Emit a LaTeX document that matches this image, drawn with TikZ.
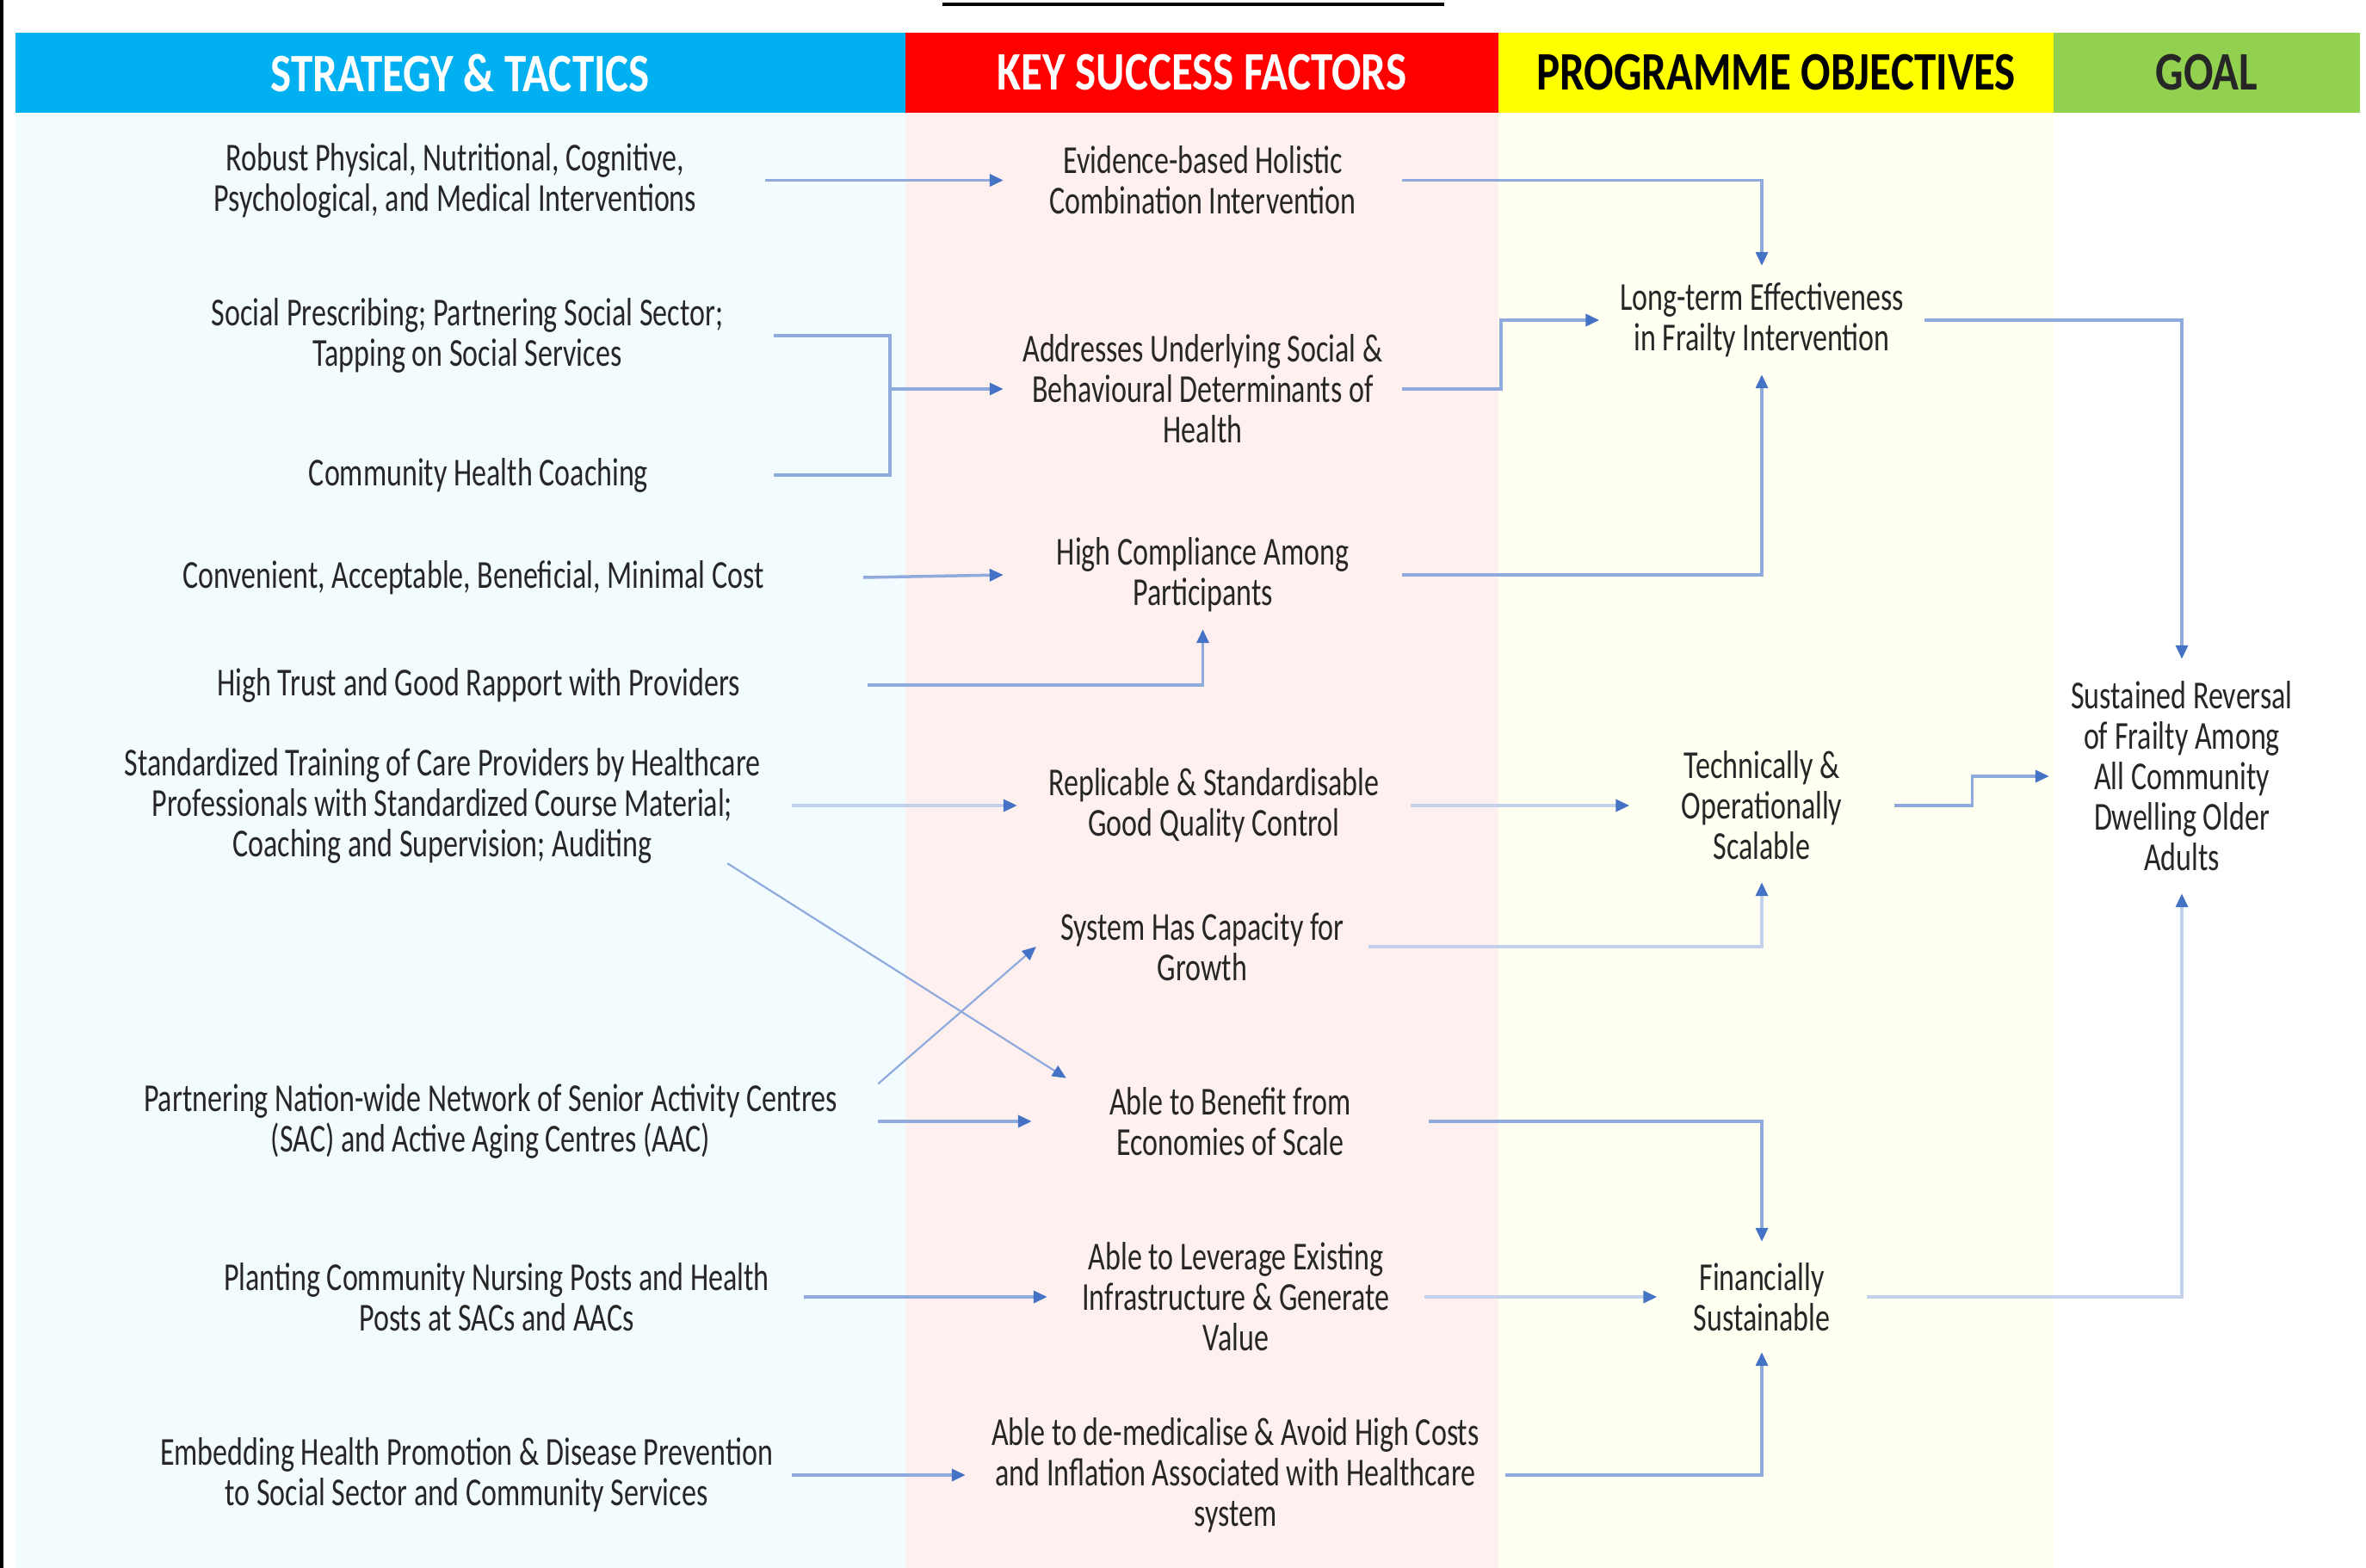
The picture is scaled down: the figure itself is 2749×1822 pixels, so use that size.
\documentclass[tikz,border=0pt]{standalone}
\usepackage{fontspec}
\setmainfont{Carlito}
\newfontfamily\bodyfont[FakeStretch=0.74]{Carlito}
\newfontfamily\headfont[FakeStretch=0.81]{Carlito}
\usetikzlibrary{arrows.meta}
\definecolor{hblue}{HTML}{00B0F0}
\definecolor{hred}{HTML}{FF0000}
\definecolor{hyellow}{HTML}{FFFF00}
\definecolor{hgreen}{HTML}{92D050}
\definecolor{bgblue}{HTML}{F2FBFE}
\definecolor{bgpink}{HTML}{FFF0F0}
\definecolor{bgyellow}{HTML}{FFFFF2}
\definecolor{lineblue}{HTML}{8FAADC}
\definecolor{paleblue}{HTML}{C3D1EB}
\definecolor{tipblue}{HTML}{4472C4}
\definecolor{txtcol}{HTML}{262626}
\begin{document}
\begin{tikzpicture}[x=1pt,y=-1pt,
  txt/.style={align=center, inner sep=0pt, text=txtcol,
    font=\bodyfont\fontsize{46}{47}\selectfont},
  headbox/.style={inner sep=0pt, minimum height=93pt,
    font=\headfont\bfseries\fontsize{63}{63}\selectfont},
  plainline/.style={draw=lineblue, line width=3.5pt},
  conn/.style={plainline, -{Triangle[length=16pt,width=14pt,color=tipblue]}},
  paleconn/.style={conn, draw=paleblue},
  diag/.style={conn, line width=2.2pt}]
\useasboundingbox (0,0) rectangle (2749,1822);
\fill[white] (0,0) rectangle (2749,1822);
% column backgrounds
\fill[bgblue] (18,131) rectangle (1052,1822);
\fill[bgpink] (1052,131) rectangle (1741,1822);
\fill[bgyellow] (1741,131) rectangle (2386,1822);
% left frame line and title underline
\fill[black] (0,0) rectangle (4,1822);
\fill[black] (1095,3) rectangle (1678,7);
% headers
\node[headbox, fill=hblue, text=white, minimum width=1034pt] (h1) at (535,84.5) {STRATEGY \& TACTICS};
\node[headbox, fill=hred, text=white, minimum width=689pt] (h2) at (1396.5,84.5) {KEY SUCCESS FACTORS};
\node[headbox, fill=hyellow, text=black, minimum width=645pt] (h3) at (2063.5,84.5) {PROGRAMME OBJECTIVES};
\node[headbox, fill=hgreen, text=black!85, minimum width=356pt] (h4) at (2564,84.5) {GOAL};
% strategy & tactics
\node[txt, minimum width=720pt] (s1) at (529,209.5) {Robust Physical, Nutritional, Cognitive,\\Psychological, and Medical Interventions};
\node[txt, minimum width=712pt] (s2) at (543,390) {Social Prescribing; Partnering Social Sector;\\Tapping on Social Services};
\node[txt, minimum width=686pt] (s3) at (556,552) {Community Health Coaching};
\node[txt, minimum width=906pt] (s4) at (550,671) {Convenient, Acceptable, Beneficial, Minimal Cost};
\node[txt, minimum width=904pt] (s5) at (556,796) {High Trust and Good Rapport with Providers};
\node[txt, minimum width=812pt, minimum height=134pt] (s6) at (514,936) {Standardized Training of Care Providers by Healthcare\\Professionals with Standardized Course Material;\\Coaching and Supervision; Auditing};
\node[txt, minimum width=900pt, minimum height=82pt] (s7) at (570,1303) {Partnering Nation-wide Network of Senior Activity Centres\\(SAC) and Active Aging Centres (AAC)};
\node[txt, minimum width=714pt] (s8) at (577,1507) {Planting Community Nursing Posts and Health\\Posts at SACs and AACs};
\node[txt, minimum width=756pt] (s9) at (542,1714) {Embedding Health Promotion \& Disease Prevention\\to Social Sector and Community Services};
\coordinate (j) at (1034,452);
% key success factors
\node[txt, minimum width=463pt] (A) at (1397.5,209.5) {Evidence-based Holistic\\Combination Intervention};
\node[txt, minimum width=463pt] (B) at (1397.5,452) {Addresses Underlying Social \&\\Behavioural Determinants of\\Health};
\node[txt, minimum width=463pt, minimum height=126pt] (C) at (1397.5,668) {High Compliance Among\\Participants};
\node[txt, minimum width=457pt] (D) at (1410.5,936) {Replicable \& Standardisable\\Good Quality Control};
\node[txt, minimum width=386pt] (E) at (1397,1100) {System Has Capacity for\\Growth};
\node[txt, minimum width=461pt, minimum height=100pt] (F) at (1429.5,1303) {Able to Benefit from\\Economies of Scale};
\node[txt, minimum width=438pt] (G) at (1436,1507) {Able to Leverage Existing\\Infrastructure \& Generate\\Value};
\node[txt, minimum width=627pt] (H) at (1435.5,1714) {Able to de-medicalise \& Avoid High Costs\\and Inflation Associated with Healthcare\\system};
% programme objectives
\node[txt, minimum width=377pt, minimum height=126pt] (O1) at (2047,372) {Long-term Effectiveness\\in Frailty Intervention};
\node[txt, minimum width=307pt, minimum height=178pt] (O2) at (2047,936) {Technically \&\\Operationally\\Scalable};
\node[txt, minimum width=243pt, minimum height=128pt] (O3) at (2047,1507) {Financially\\Sustainable};
% goal
\node[txt, minimum width=308pt, minimum height=272pt] (G1) at (2535,902) {Sustained Reversal\\of Frailty Among\\All Community\\Dwelling Older\\Adults};
% connectors
\draw[conn] (s1.east) -- (A.west);
\draw[conn] (A.east) -| (O1.north);
\draw[plainline] (s2.east) -| (j) |- (s3.east);
\draw[conn] (j) -- (B.west);
\draw[conn] (B.east) -- ++(115,0) |- (O1.west);
\draw[conn] (C.east) -| (O1.south);
\draw[conn] (s4.east) -- (C.west);
\draw[conn] (s5.east) -| (C.south);
\draw[conn] (O1.east) -| (G1.north);
\draw[paleconn] (s6.east) -- (D.west);
\draw[paleconn] (D.east) -- (O2.west);
\draw[conn] (O2.east) -- ++(91,0) |- (G1.west);
\draw[paleconn] (E.east) -| (O2.south);
\draw[diag] ([xshift=-75pt]s6.south east) -- ([xshift=40pt]F.north west);
\draw[diag] (s7.north east) -- (E.west);
\draw[conn] (s7.east) -- (F.west);
\draw[conn] (F.east) -| (O3.north);
\draw[conn] (s8.east) -- (G.west);
\draw[paleconn] (G.east) -- (O3.west);
\draw[paleconn] (O3.east) -| (G1.south);
\draw[conn] (s9.east) -- (H.west);
\draw[conn] (H.east) -| (O3.south);
\end{tikzpicture}
\end{document}
